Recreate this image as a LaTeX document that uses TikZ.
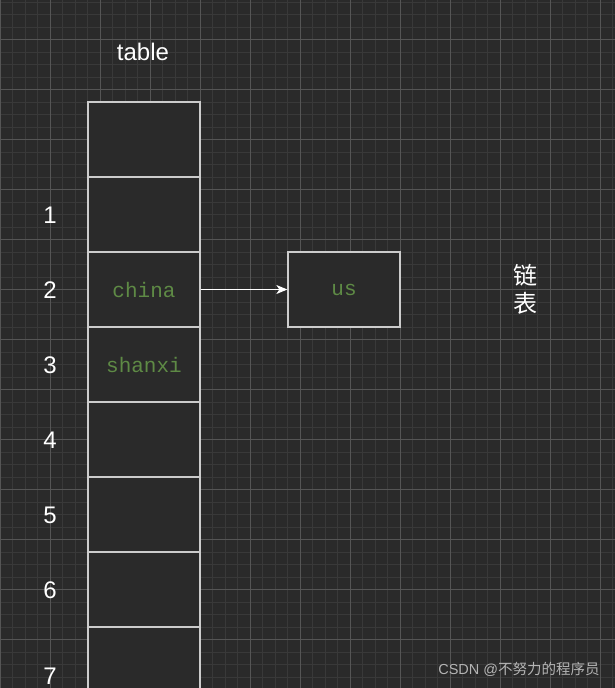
\documentclass[tikz,border=0pt]{standalone}
\usepackage{fontspec}
\setmainfont{Liberation Sans}
\newfontfamily\cjk{Noto Sans CJK SC}
\newfontfamily\cellfont{Liberation Mono}
\usetikzlibrary{arrows.meta}
\definecolor{bg}{HTML}{2A2A2A}
\definecolor{gridminor}{HTML}{393939}
\definecolor{gridmajor}{HTML}{555555}
\definecolor{boxline}{HTML}{CCCCCC}
\definecolor{txtgreen}{HTML}{5E8A45}
\definecolor{wm}{HTML}{B4B4B4}
\begin{document}
\begin{tikzpicture}[x=1pt, y=-1pt,
    cell/.style={rectangle, draw=boxline, line width=1.3pt, fill=bg, minimum width=112pt, minimum height=75pt, inner sep=0pt, text=txtgreen, font=\cellfont\fontsize{21}{24}\selectfont},
    lbl/.style={text=white, inner sep=0pt, font=\fontsize{24}{28}\selectfont}]
    \useasboundingbox (0,0) rectangle (615,688);
    \fill[bg] (0,0) rectangle (615,688);
    \clip (0,0) rectangle (615,688);
    \foreach \i in {0,...,49} \draw[gridminor, line width=0.9pt] ({12.5*\i},0) -- ({12.5*\i},688);
    \foreach \i in {0,...,55} \draw[gridminor, line width=0.9pt] (0,{2+12.5*\i}) -- (615,{2+12.5*\i});
    \foreach \i in {0,...,12} \draw[gridmajor, line width=0.9pt] ({50*\i},0) -- ({50*\i},688);
    \foreach \i in {0,...,13} \draw[gridmajor, line width=0.9pt] (0,{39.5+50*\i}) -- (615,{39.5+50*\i});
    \node[lbl] (title) at (143,52) {table};
    \foreach \i/\t in {0/,1/,2/china,3/shanxi,4/,5/,6/,7/}
        \node[cell] (c\i) at (144,{139.5+75*\i}) {\t};
    \foreach \i/\y in {1/215,2/290,3/365,4/440,5/515,6/590,7/676}
        \node[lbl] (n\i) at (50,\y) {\i};
    \node[cell] (us) at (344,289.5) {us};
    \draw[white, line width=1pt, -{Stealth[length=11pt, width=9pt, inset=3pt]}] (c2) -- (us);
    \node[lbl, align=center, font=\cjk\fontsize{24}{28}\selectfont] (lianbiao) at (525,289) {链\\表};
    \node[text=wm, inner sep=0pt, font=\fontsize{14.5}{18}\selectfont] (csdn) at (519,669) {CSDN @{\cjk 不努力的程序员}};
\end{tikzpicture}
\end{document}
